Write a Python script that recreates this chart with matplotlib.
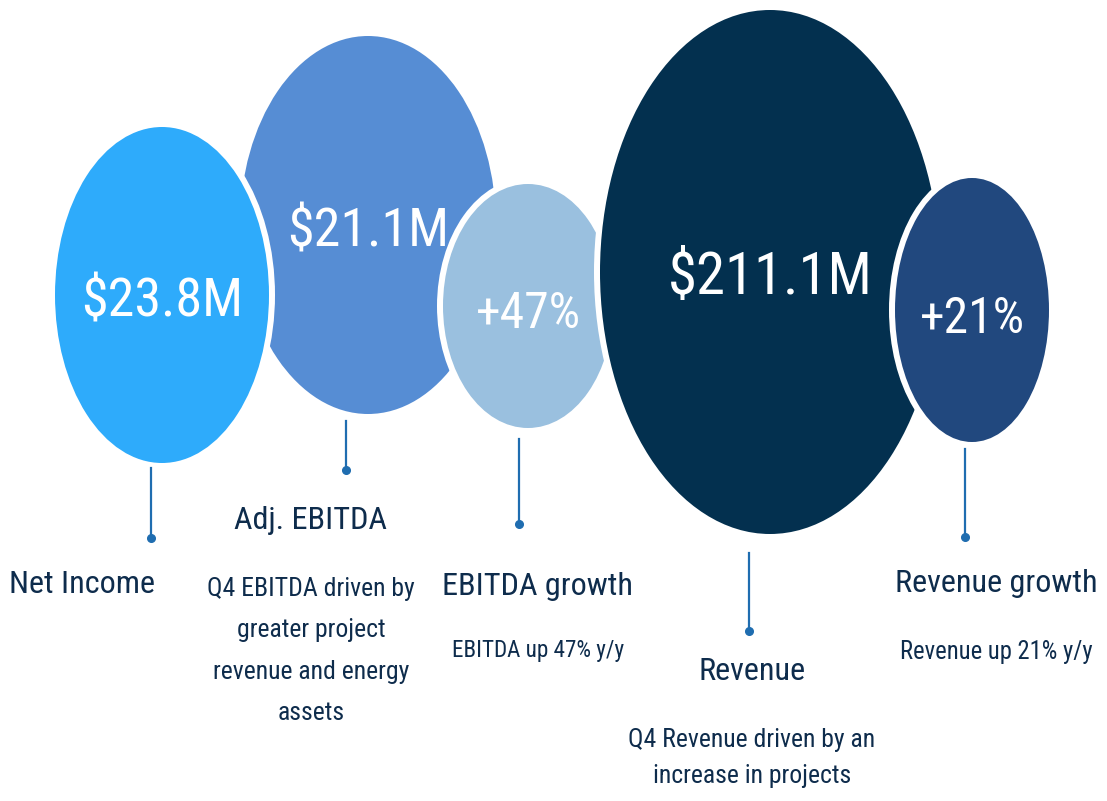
import matplotlib
matplotlib.use("Agg")
import matplotlib.pyplot as plt
from matplotlib import font_manager
from matplotlib.font_manager import FontProperties
from matplotlib.patches import Ellipse
from matplotlib.textpath import TextPath

# --- data -------------------------------------------------------------
labels = ["Net Income", "Adj. EBITDA", "EBITDA growth", "Revenue", "Revenue growth"]
values = ["$23.8M", "$21.1M", "+47%", "$211.1M", "+21%"]
descriptions = [
    [],
    ["Q4 EBITDA driven by", "greater project", "revenue and energy", "assets"],
    ["EBITDA up 47% y/y"],
    ["Q4 Revenue driven by an", "increase in projects"],
    ["Revenue up 21% y/y"],
]

# --- layout (pixel coords, y down) -------------------------------------
W, H = 1107, 801
bubble_xy = [(162, 295), (368, 225), (528, 306), (770, 272), (972, 310)]
bubble_r = [(107, 168), (128, 189), (85, 122), (170, 262), (77, 132)]
bubble_z = [2, 1, 3, 4, 5]
bubble_colors = ["#2eabfb", "#568dd4", "#9ac0df", "#03304f", "#21487e"]
value_base = [316, 246, 328, 294, 333]
value_em = [48, 48, 44, 52, 44]

stem_x = [151, 346, 518.5, 749, 965]
stem_y = [(468, 538), (421, 470), (439, 524), (553, 631), (449, 537)]
label_x = [82, 311, 538, 752, 996]
label_base = [593, 529, 595, 680, 592]
desc_base = [0, 596, 657, 747, 659]
desc_step = [0, 41.5, 0, 36, 0]
desc_em = [0, 22.8, 20.5, 22.8, 21.8]
label_em = 28.6

text_color = "#0e2c4c"
stem_color = "#1f6db0"


def pick_font():
    names = {f.name for f in font_manager.fontManager.ttflist}
    for cand in ["Liberation Sans Narrow", "Roboto Condensed", "Open Sans Condensed",
                 "DejaVu Sans Condensed", "Liberation Sans"]:
        if cand in names:
            return cand
    return "DejaVu Sans"


FONT = pick_font()


def _width(family, s="Net Income"):
    return TextPath((0, 0), s, size=100, prop=FontProperties(family=family)).get_extents().width


# reference widths were read against an Arial-like face; scale to the chosen one
squeeze = _width(FONT) / _width("Liberation Sans")


def pt(em_px):
    return em_px / squeeze * 72 / 100


fig = plt.figure(figsize=(W / 100, H / 100), dpi=100)
ax = fig.add_axes([0, 0, 1, 1])
ax.set_xlim(0, W)
ax.set_ylim(H, 0)
ax.axis("off")

gap = 6
for (cx, cy), (rx, ry), z, col in zip(bubble_xy, bubble_r, bubble_z, bubble_colors):
    ax.add_patch(Ellipse((cx, cy), 2 * (rx + gap), 2 * (ry + gap),
                         facecolor="white", edgecolor="none", zorder=z - 0.5))
    ax.add_patch(Ellipse((cx, cy), 2 * rx, 2 * ry,
                         facecolor=col, edgecolor="none", zorder=z))

for (cx, _), base, em, val in zip(bubble_xy, value_base, value_em, values):
    ax.text(cx, base, val, color="white", ha="center", va="baseline",
            fontsize=pt(em), family=FONT, zorder=10)

for x, (y0, y1) in zip(stem_x, stem_y):
    ax.plot([x, x], [y0, y1], color=stem_color, lw=1.6, zorder=6)
    ax.plot([x], [y1], "o", color=stem_color, ms=5.5, zorder=6)

for i, lab in enumerate(labels):
    ax.text(label_x[i], label_base[i], lab, color=text_color, ha="center",
            va="baseline", fontsize=pt(label_em), family=FONT, zorder=10)
    for j, line in enumerate(descriptions[i]):
        ax.text(label_x[i], desc_base[i] + j * desc_step[i], line, color=text_color,
                ha="center", va="baseline", fontsize=pt(desc_em[i]),
                family=FONT, zorder=10)

fig.savefig("out.png", dpi=100, facecolor="white")
